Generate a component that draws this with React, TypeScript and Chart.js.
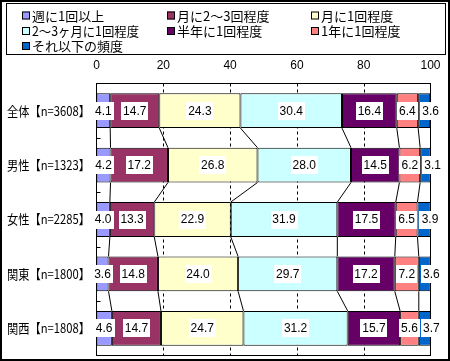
import React, { useEffect, useRef } from "react";
import { Chart, registerables } from "chart.js";

Chart.register(...registerables);

const categories = [
  "全体【n=3608】",
  "男性【n=1323】",
  "女性【n=2285】",
  "関東【n=1800】",
  "関西【n=1808】",
];
const seriesNames = [
  "週に1回以上",
  "月に2～3回程度",
  "月に1回程度",
  "2～3ヶ月に1回程度",
  "半年に1回程度",
  "1年に1回程度",
  "それ以下の頻度",
];
const seriesColors = ["#9999FF", "#993366", "#FFFFCC", "#CCFFFF", "#660066", "#FF8080", "#0066CC"];
const weekly = [4.1, 4.2, 4.0, 3.6, 4.6];
const monthly2to3 = [14.7, 17.2, 13.3, 14.8, 14.7];
const monthly1 = [24.3, 26.8, 22.9, 24.0, 24.7];
const every2to3Months = [30.4, 28.0, 31.9, 29.7, 31.2];
const halfYear = [16.4, 14.5, 17.5, 17.2, 15.7];
const yearly = [6.4, 6.2, 6.5, 7.2, 5.6];
const lessOften = [3.6, 3.1, 3.9, 3.6, 3.7];
const seriesValues = [weekly, monthly2to3, monthly1, every2to3Months, halfYear, yearly, lessOften];
const xTicks = [0, 20, 40, 60, 80, 100];

const JP = '"Noto Sans CJK JP", sans-serif';
const NUM = '"Liberation Sans", Arial, sans-serif';

const customPlugin = {
  id: "customDraw",
  beforeDraw(chart: any) {
    const { ctx, width, height } = chart;
    ctx.save();
    ctx.fillStyle = "#fff";
    ctx.fillRect(0, 0, width, height);
    ctx.restore();
  },
  beforeDatasetsDraw(chart: any) {
    const { ctx, chartArea: a, scales } = chart;
    const x = scales.x;
    ctx.save();
    ctx.strokeStyle = "#000";
    ctx.lineWidth = 1;
    ctx.setLineDash([3, 3]);
    xTicks.forEach((t) => {
      if (t <= 0 || t >= 100) return;
      const px = Math.round(x.getPixelForValue(t)) + 0.5;
      ctx.beginPath();
      ctx.moveTo(px, a.top);
      ctx.lineTo(px, a.bottom);
      ctx.stroke();
    });
    ctx.restore();
  },
  afterDatasetsDraw(chart: any) {
    const { ctx, chartArea: a, scales } = chart;
    const x = scales.x;
    const n = categories.length;
    ctx.save();
    ctx.strokeStyle = "#000";
    ctx.lineWidth = 1;
    ctx.setLineDash([]);
    // frame
    ctx.strokeRect(a.left, a.top, a.right - a.left, a.bottom - a.top);
    // left axis small ticks at category boundaries
    const band = (a.bottom - a.top) / n;
    for (let k = 1; k < n; k++) {
      const py = Math.round(a.top + k * band) + 0.5;
      ctx.beginPath();
      ctx.moveTo(a.left, py);
      ctx.lineTo(a.left + 4, py);
      ctx.stroke();
    }
    // series connector lines
    const meta0 = chart.getDatasetMeta(0);
    for (let i = 0; i < n - 1; i++) {
      const e1 = meta0.data[i];
      const e2 = meta0.data[i + 1];
      const yb = e1.y + e1.height / 2;
      const yt = e2.y - e2.height / 2;
      let c1 = 0;
      let c2 = 0;
      for (let s = 0; s < seriesValues.length - 1; s++) {
        c1 += seriesValues[s][i];
        c2 += seriesValues[s][i + 1];
        ctx.beginPath();
        ctx.moveTo(x.getPixelForValue(c1), yb);
        ctx.lineTo(x.getPixelForValue(c2), yt);
        ctx.stroke();
      }
    }
    // data labels
    ctx.font = `12px ${NUM}`;
    ctx.textBaseline = "middle";
    const last = chart.data.datasets.length - 1;
    chart.data.datasets.forEach((ds: any, di: number) => {
      const meta = chart.getDatasetMeta(di);
      meta.data.forEach((el: any, i: number) => {
        const v = ds.data[i];
        const txt = v.toFixed(1);
        const tw = ctx.measureText(txt).width;
        const bw = Math.round(tw + 4);
        const bh = 18;
        let cx = (el.x + el.base) / 2;
        if (di === last) cx = Math.min(el.x, el.base) + 2 + bw / 2;
        const cy = el.y;
        ctx.fillStyle = "#fff";
        ctx.fillRect(Math.round(cx - bw / 2), Math.round(cy - bh / 2), bw, bh);
        ctx.fillStyle = "#000";
        ctx.textAlign = "center";
        ctx.fillText(txt, cx, cy + 0.5);
      });
    });
    // category labels
    ctx.font = `13px ${JP}`;
    ctx.textAlign = "right";
    meta0.data.forEach((el: any, i: number) => {
      ctx.fillText(categories[i], 90, el.y, 83);
    });
    // x tick labels
    ctx.font = `12px ${NUM}`;
    ctx.textAlign = "center";
    xTicks.forEach((t) => {
      ctx.fillText(String(t), x.getPixelForValue(t), 65.5);
    });
    ctx.restore();
  },
  afterDraw(chart: any) {
    const { ctx } = chart;
    ctx.save();
    ctx.strokeStyle = "#000";
    ctx.lineWidth = 1;
    // legend box
    ctx.strokeRect(6.5, 3.5, 439, 51);
    const cols = [22, 167, 311];
    const rows = [15.5, 31, 46];
    ctx.font = `13px ${JP}`;
    ctx.textAlign = "left";
    ctx.textBaseline = "middle";
    seriesNames.forEach((name, i) => {
      const cx = cols[i % 3];
      const cy = rows[Math.floor(i / 3)];
      ctx.fillStyle = seriesColors[i];
      ctx.fillRect(cx, cy - 4, 8, 8);
      ctx.strokeRect(cx + 0.5, cy - 3.5, 7, 7);
      ctx.fillStyle = "#000";
      ctx.fillText(name, cx + 10, cy + 0.5, 107);
    });
    // outer border
    ctx.lineWidth = 2;
    ctx.strokeRect(1, 1, 448, 359);
    ctx.restore();
  },
};

export default function App() {
  const ref = useRef<HTMLCanvasElement | null>(null);
  useEffect(() => {
    if (!ref.current) return;
    const chart = new Chart(ref.current, {
      type: "bar",
      data: {
        labels: categories,
        datasets: seriesNames.map((name, i) => ({
          label: name,
          data: seriesValues[i],
          backgroundColor: seriesColors[i],
          borderColor: "#000",
          borderWidth: 1,
          borderSkipped: false,
          barPercentage: 0.64,
          categoryPercentage: 1,
        })),
      },
      options: {
        indexAxis: "y",
        responsive: false,
        maintainAspectRatio: false,
        animation: false,
        layout: { padding: { left: 96.5, right: 19.5, top: 83.5, bottom: 5.5 } },
        plugins: { legend: { display: false }, tooltip: { enabled: false } },
        scales: {
          x: { stacked: true, min: 0, max: 100, display: false },
          y: { stacked: true, display: false },
        },
      },
      plugins: [customPlugin],
    } as any);
    return () => chart.destroy();
  }, []);
  return (
    <div style={{ position: "absolute", left: 0, top: 0, width: 450, height: 361 }}>
      <canvas ref={ref} width={450} height={361} style={{ display: "block" }} />
    </div>
  );
}
